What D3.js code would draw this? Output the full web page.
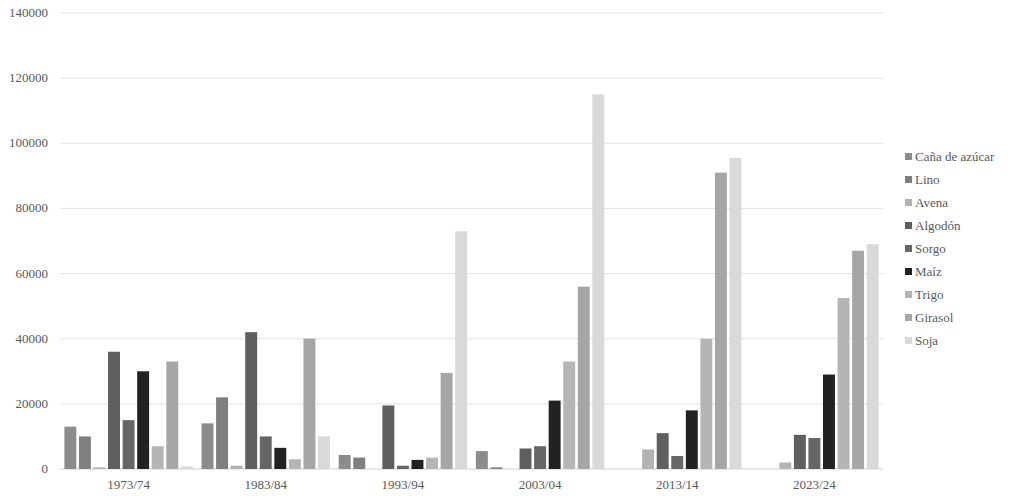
<!DOCTYPE html><html><head><meta charset="utf-8"><script src="https://d3js.org/d3.v7.min.js"></script>
<style>body{margin:0;background:#fff}text{font-family:"Liberation Serif","Times New Roman",serif}</style></head><body><svg id="c" width="1013" height="498"></svg><script>
const categories=["1973/74","1983/84","1993/94","2003/04","2013/14","2023/24"];
const seriesNames=["Caña de azúcar","Lino","Avena","Algodón","Sorgo","Maíz","Trigo","Girasol","Soja"];
const colors=["#8c8c8c","#7f7f7f","#b3b3b3","#5f5f5f","#666666","#222222","#b5b5b5","#a6a6a6","#d9d9d9"];
const cana=[13000,14000,4300,5500,0,0];
const lino=[10000,22000,3500,500,0,0];
const avena=[500,1000,0,0,6000,2000];
const algodon=[36000,42000,19500,6300,11000,10500];
const sorgo=[15000,10000,1000,7000,4000,9500];
const maiz=[30000,6500,2800,21000,18000,29000];
const trigo=[7000,3000,3500,33000,40000,52500];
const girasol=[33000,40000,29500,56000,91000,67000];
const soja=[800,10000,73000,115000,95500,69000];
const yTicks=[0,20000,40000,60000,80000,100000,120000,140000];
const series=[cana,lino,avena,algodon,sorgo,maiz,trigo,girasol,soja];
const svg=d3.select("#c");
const L=60,R=883,T=13,B=469;
const x=d3.scaleBand().domain(categories).range([L,R]);
const x1=d3.scaleBand().domain(d3.range(9)).range([0,x.bandwidth()]).paddingInner(0.18).paddingOuter(0.3);
const y=d3.scaleLinear().domain([0,140000]).range([B,T]);
svg.append("g").selectAll("line").data(yTicks).join("line").attr("x1",L).attr("x2",R).attr("y1",d=>y(d)).attr("y2",d=>y(d)).attr("stroke",d=>d===0?"#d0d0d0":"#e3e3e3");
svg.append("g").selectAll("text").data(yTicks).join("text").attr("x",48).attr("y",d=>y(d)+4).attr("text-anchor","end").attr("font-size",13).attr("fill","#595959").text(d=>d);
svg.append("g").selectAll("text").data(categories).join("text").attr("x",d=>x(d)+x.bandwidth()/2).attr("y",489).attr("text-anchor","middle").attr("font-size",13).attr("fill","#595959").text(d=>d);
series.forEach((s,i)=>{svg.append("g").selectAll("rect").data(s).join("rect").attr("x",(d,j)=>x(categories[j])+x1(i)).attr("width",x1.bandwidth()).attr("y",d=>y(d)).attr("height",d=>B-y(d)).attr("fill",colors[i]);});
const lg=svg.append("g").attr("transform","translate(905,157)");
seriesNames.forEach((n,i)=>{const g=lg.append("g").attr("transform",`translate(0,${i*23})`);g.append("rect").attr("x",0).attr("y",-4).attr("width",7).attr("height",7).attr("fill",colors[i]);g.append("text").attr("x",10).attr("y",4).attr("font-size",13).attr("fill","#595959").text(n);});
</script></body></html>
